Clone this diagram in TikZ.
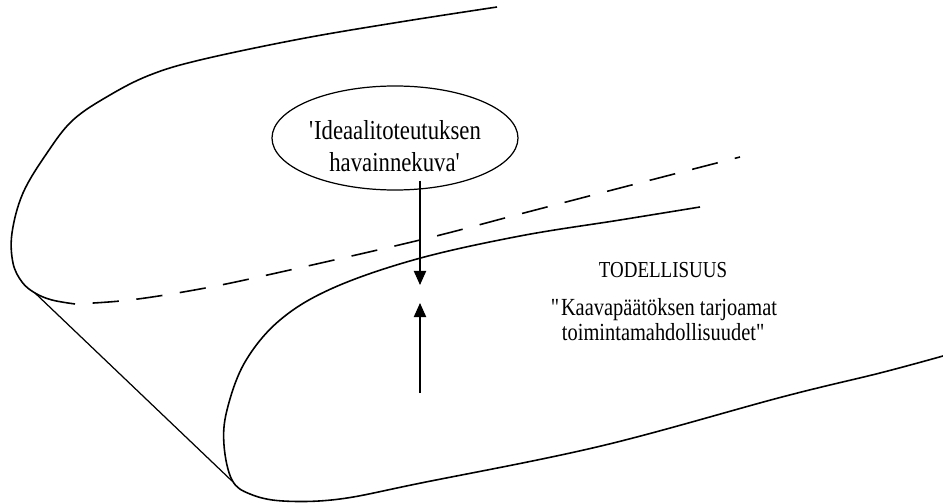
\documentclass[tikz,border=0pt]{standalone}
\usepackage{fontspec}
\setmainfont{Liberation Serif}
\newfontfamily\narrowserif{Liberation Serif}[FakeStretch=0.83]
\usetikzlibrary{arrows.meta,shapes.geometric}

\begin{document}
\begin{tikzpicture}[x=0.2mm, y=-0.2mm,
		sheet/.style={line width=0.9pt, line join=round},
		arr/.style={line width=0.6pt, -{Triangle[length=8pt,width=7pt]}}]
			\useasboundingbox (0,0) rectangle (943,503);

			% upper sheet, folding under at the left
			\draw[sheet] plot[smooth, tension=0.6] coordinates {(497,7) (400,22) (300,39) (200,60) (150,75) (110,95) (73,120) (47,153) (23,193) (12,233) (13,263) (22,282) (35,293) (52,300) (75,304)};
			\draw[sheet, dash pattern=on 15pt off 10pt, dash phase=15pt] plot[smooth, tension=0.6] coordinates {(75,304) (130,300) (200,289) (272,274) (420,240) (520,214) (620,188) (740,157)};

			% lower sheet
			\draw[sheet] plot[smooth, tension=0.6] coordinates {(700,207) (620,220) (520,236) (417,259) (333,288) (280,320) (245,362) (227,410) (224,445) (232,480) (250,494) (283,501) (340,499) (421,483) (601,446) (782,397) (880,373) (943,356)};

			\coordinate (foldtop) at (35,293);
			\coordinate (foldbot) at (232,481);
			\draw[line width=0.7pt] (foldtop) -- (foldbot);

			\node[draw, ellipse, line width=0.7pt, minimum width=4.92cm, minimum height=2.08cm] (ideal) at (395,138) {};
			\node[align=center, inner sep=0pt, font=\narrowserif\fontsize{15.6}{18.5}\selectfont] (idealtext) at (395,146) {\textquotesingle Ideaalitoteutuksen\\havainnekuva\textquotesingle};

			\node[font=\narrowserif\fontsize{13}{14.2}\selectfont, inner sep=0pt] (tod) at (663,270) {TODELLISUUS};
			\node[font=\narrowserif\fontsize{14}{14.2}\selectfont, inner sep=0pt, align=center] (kaava) at (664,320) {\textquotedbl Kaavapäätöksen tarjoamat\\toimintamahdollisuudet\textquotedbl};

			\coordinate (downtip) at (420,285);
			\coordinate (uptip) at (420,303);
			\coordinate (upfoot) at (420,393);

			\draw[arr] ([yshift=5.7pt]ideal.south -| downtip) -- (downtip);
			\draw[arr] (upfoot) -- (uptip);
\end{tikzpicture}
\end{document}
